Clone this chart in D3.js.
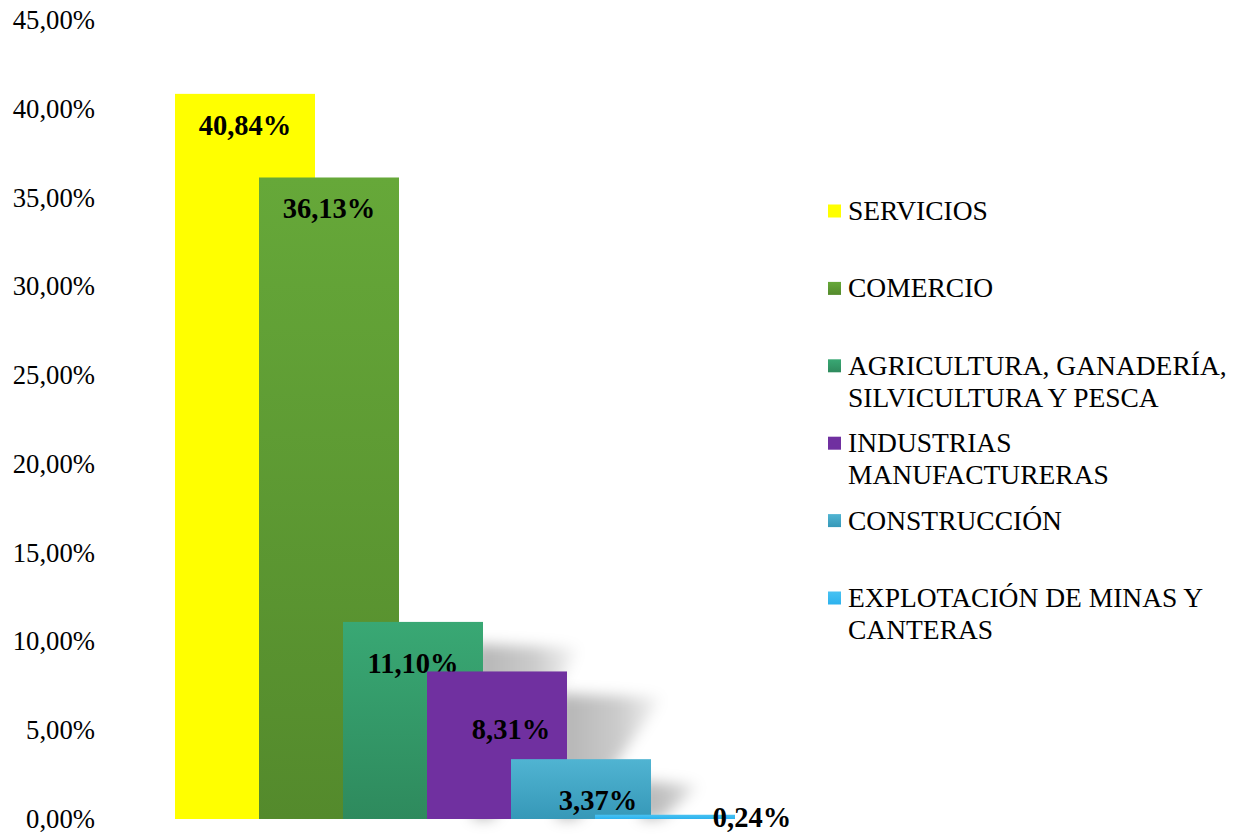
<!DOCTYPE html>
<html>
<head>
<meta charset="utf-8">
<script src="https://cdn.jsdelivr.net/npm/d3@7"></script>
<style>
  body { margin: 0; background: #fff; }
  svg { font-family: "Liberation Serif", "Times New Roman", serif; }
</style>
</head>
<body>
<svg class="chart" width="1239" height="835"></svg>
<script>
// data
var categories = ["SERVICIOS", "COMERCIO", "AGRICULTURA, GANADERÍA, SILVICULTURA Y PESCA",
  "INDUSTRIAS MANUFACTURERAS", "CONSTRUCCIÓN", "EXPLOTACIÓN DE MINAS Y CANTERAS"];
var values = [40.84, 36.13, 11.10, 8.31, 3.37, 0.24];
var legendLines = [["SERVICIOS"], ["COMERCIO"], ["AGRICULTURA, GANADERÍA,", "SILVICULTURA Y PESCA"],
  ["INDUSTRIAS", "MANUFACTURERAS"], ["CONSTRUCCIÓN"], ["EXPLOTACIÓN DE MINAS Y", "CANTERAS"]];
var yTicks = [0, 5, 10, 15, 20, 25, 30, 35, 40, 45];

// colours (top, bottom of gradient)
var colors = [["#ffff00", "#ffff00"], ["#66a839", "#548a2c"], ["#39a874", "#2e8a5d"],
  ["#7030a0", "#7030a0"], ["#50b4d2", "#3698b8"], ["#48c2f2", "#2cb2ee"]];

// label placement tweaks (relative to bar centre / bar top)
var labelDx = [0, 0, 0, 14, 17, 87];
var labelDy = [41, 41, 51, 68, 51, 12];
var shadow = [false, false, true, true, true, false];

var svg = d3.select(".chart");
var defs = svg.append("defs");

var fmt = function(v) { return v.toFixed(2).replace(".", ",") + "%"; };

colors.forEach(function(c, i) {
  var g = defs.append("linearGradient").attr("id", "grad" + i)
    .attr("x1", 0).attr("y1", 0).attr("x2", 0).attr("y2", 1);
  g.append("stop").attr("offset", "0%").attr("stop-color", c[0]);
  g.append("stop").attr("offset", "100%").attr("stop-color", c[1]);
});

var sg = defs.append("linearGradient").attr("id", "shadowGrad")
  .attr("x1", 0).attr("y1", 0).attr("x2", 1).attr("y2", 0);
sg.append("stop").attr("offset", "0%").attr("stop-color", "#000").attr("stop-opacity", 0.3);
sg.append("stop").attr("offset", "60%").attr("stop-color", "#000").attr("stop-opacity", 0.2);
sg.append("stop").attr("offset", "100%").attr("stop-color", "#000").attr("stop-opacity", 0.03);

defs.append("filter").attr("id", "blur")
  .attr("x", "-50%").attr("y", "-50%").attr("width", "200%").attr("height", "200%")
  .append("feGaussianBlur").attr("stdDeviation", 7);

var y = d3.scaleLinear().domain([0, 45]).range([819, 20]);

var step = 84;
var x = d3.scaleBand().domain(categories).range([175, 175 + step * categories.length]).paddingInner(0).paddingOuter(0);
var barW = 140;

// y axis labels only
var yAxis = svg.append("g")
  .attr("transform", "translate(95,0)")
  .call(d3.axisLeft(y).tickValues(yTicks).tickSize(0).tickPadding(0)
    .tickFormat(function(d) { return d.toFixed(2).replace(".", ",") + "%"; }));
yAxis.select(".domain").remove();
yAxis.selectAll("text")
  .style("font-family", "Liberation Serif")
  .style("font-size", "26.7px")
  .attr("fill", "#000");

var data = categories.map(function(c, i) { return { name: c, value: values[i], i: i }; });

// shadows
svg.append("g").selectAll("polygon")
  .data(data.filter(function(d) { return shadow[d.i]; }))
  .enter().append("polygon")
  .attr("points", function(d) {
    var r = x(d.name) + barW, t = y(d.value) + 22, b = y(0);
    var w = Math.min(95, (b - t) * 1.3);
    return [[r - 10, t], [r + w, t + 4], [r + 10, b], [r - 10, b]].join(" ");
  })
  .attr("fill", "url(#shadowGrad)")
  .attr("filter", "url(#blur)");

var bars = svg.append("g").selectAll("g")
  .data(data)
  .enter().append("g");

bars.append("rect")
  .attr("x", function(d) { return x(d.name); })
  .attr("y", function(d) { return y(d.value); })
  .attr("width", barW)
  .attr("height", function(d) { return y(0) - y(d.value); })
  .attr("fill", function(d) { return "url(#grad" + d.i + ")"; });

bars.append("text")
  .attr("x", function(d) { return x(d.name) + barW / 2 + labelDx[d.i]; })
  .attr("y", function(d) { return y(d.value) + labelDy[d.i]; })
  .attr("text-anchor", "middle")
  .style("font-size", "28.5px")
  .style("font-weight", "bold")
  .text(function(d) { return fmt(d.value); });

// legend
var legend = svg.append("g").selectAll("g")
  .data(data)
  .enter().append("g")
  .attr("transform", function(d) { return "translate(828," + (211 + d.i * 77.4) + ")"; });

legend.append("rect")
  .attr("x", 0).attr("y", -6.5)
  .attr("width", 13).attr("height", 13)
  .attr("fill", function(d) { return "url(#grad" + d.i + ")"; });

legend.append("text")
  .attr("x", 20)
  .attr("y", 9)
  .style("font-size", "27.5px")
  .selectAll("tspan")
  .data(function(d) { return legendLines[d.i]; })
  .enter().append("tspan")
  .attr("x", 20)
  .attr("dy", function(d, j) { return j === 0 ? 0 : 32; })
  .text(function(d) { return d; });
</script>
</body>
</html>
